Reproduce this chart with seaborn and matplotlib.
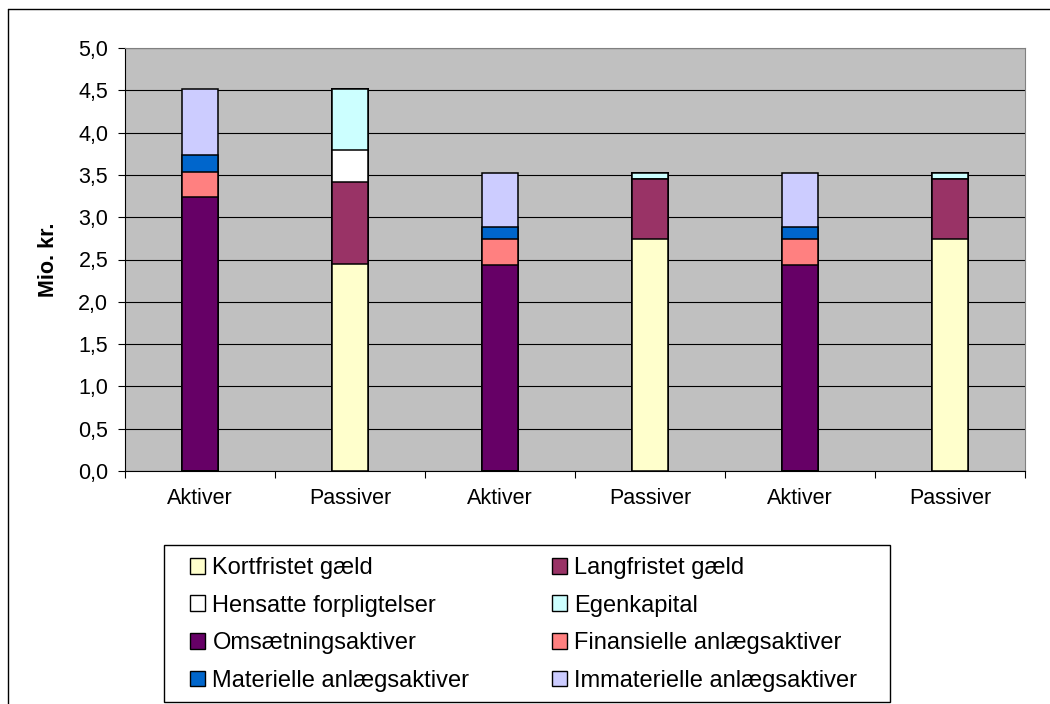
import matplotlib
matplotlib.use("Agg")
import matplotlib.pyplot as plt
import seaborn as sns
import pandas as pd
import numpy as np
from matplotlib.patches import Patch, Rectangle
from matplotlib.lines import Line2D
from matplotlib.ticker import FuncFormatter, MultipleLocator, FixedLocator

# data (mio. kr.)
labels = ["Aktiver", "Passiver", "Aktiver", "Passiver", "Aktiver", "Passiver"]
kortfristet = [0, 2.45, 0, 2.74, 0, 2.74]
langfristet = [0, 0.97, 0, 0.71, 0, 0.71]
hensatte = [0, 0.38, 0, 0, 0, 0]
egenkapital = [0, 0.72, 0, 0.07, 0, 0.07]
omsaetning = [3.24, 0, 2.43, 0, 2.43, 0]
finansielle = [0.30, 0, 0.31, 0, 0.31, 0]
materielle = [0.19, 0, 0.14, 0, 0.14, 0]
immaterielle = [0.79, 0, 0.64, 0, 0.64, 0]

names = ["Kortfristet gæld", "Langfristet gæld", "Hensatte forpligtelser", "Egenkapital",
         "Omsætningsaktiver", "Finansielle anlægsaktiver", "Materielle anlægsaktiver",
         "Immaterielle anlægsaktiver"]
colors = ["#FFFFCC", "#993366", "#FFFFFF", "#CCFFFF",
          "#660066", "#FF8080", "#0066CC", "#CCCCFF"]

sns.set_style("white")
plt.rcParams['font.family'] = ['Liberation Sans', 'DejaVu Sans']
plt.rcParams.update({"text.color": "black", "axes.labelcolor": "black",
                     "xtick.color": "black", "ytick.color": "black"})
fs = 15.5

fig = plt.figure(figsize=(10.5, 7.04), dpi=100)
ax = fig.add_axes([125 / 1050, 1 - 471 / 704, 900 / 1050, 423 / 704])
ax.set_facecolor('#C0C0C0')

stack = np.array([kortfristet, langfristet, hensatte, egenkapital,
                  omsaetning, finansielle, materielle, immaterielle])
cum = np.cumsum(stack, axis=0)
pos = list(range(len(labels)))

# tegn kumulerede søjler bagfra, så de nederste lægger sig ovenpå
for i in reversed(range(len(stack))):
    df = pd.DataFrame({"pos": pos, "val": cum[i]})
    sns.barplot(data=df, x="pos", y="val", color=colors[i], saturation=1,
                width=0.235, edgecolor="black", linewidth=1.1,
                errorbar=None, ax=ax, zorder=3)

ax.set_xlim(-0.5, 5.5)
ax.set_ylim(0, 5)
ax.yaxis.set_major_locator(MultipleLocator(0.5))
ax.yaxis.set_major_formatter(FuncFormatter(lambda v, p: f"{v:.1f}".replace(".", ",")))
ax.grid(axis="y", color="black", linewidth=0.8, zorder=0)
ax.set_axisbelow(True)

ax.set_xticks(pos)
ax.set_xticklabels(labels)
ax.xaxis.set_minor_locator(FixedLocator(np.arange(-0.5, 6, 1)))
ax.tick_params(axis="x", which="major", length=0, pad=12, labelsize=fs)
ax.tick_params(axis="x", which="minor", length=5, width=0.8, direction="out", bottom=True)
ax.tick_params(axis="y", length=5, width=0.8, direction="out", left=True, pad=7, labelsize=fs)
ax.set_xlabel("")
ax.set_ylabel("Mio. kr.", fontsize=fs, fontweight="bold", labelpad=14)

for s in ["left", "bottom"]:
    ax.spines[s].set_color("black")
    ax.spines[s].set_linewidth(0.8)
for s in ["top", "right"]:
    ax.spines[s].set_color("#808080")
    ax.spines[s].set_linewidth(0.8)

# legend, række for række
handles = [Patch(facecolor=c, edgecolor="black", linewidth=1.0) for c in colors]
order = [0, 2, 4, 6, 1, 3, 5, 7]
fig.legend([handles[i] for i in order], [names[i] for i in order], ncol=2,
           loc="upper left", bbox_to_anchor=(190 / 1050, 1 - 557 / 704),
           fontsize=17, frameon=False, borderaxespad=0, borderpad=0,
           handlelength=0.65, handleheight=0.65, handletextpad=0.3,
           labelspacing=0.66, columnspacing=3.5)
fig.add_artist(Rectangle((164 / 1050, 2 / 704), 726 / 1050, 157 / 704,
                         transform=fig.transFigure, facecolor="none",
                         edgecolor="black", linewidth=1.0))

# rammen om diagrammet
fig.add_artist(Line2D([8 / 1050, 8 / 1050], [0, 1 - 9 / 704], transform=fig.transFigure,
                      color="black", linewidth=1.0))
fig.add_artist(Line2D([8 / 1050, 1], [1 - 9 / 704, 1 - 9 / 704], transform=fig.transFigure,
                      color="black", linewidth=1.0))

fig.savefig("out.png", dpi=100)
